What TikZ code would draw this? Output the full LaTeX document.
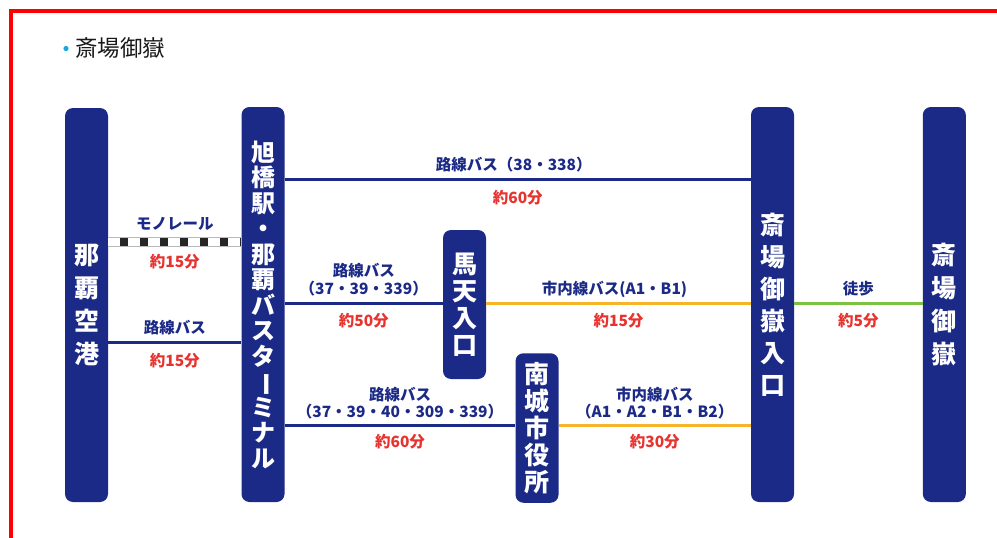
\documentclass[tikz,border=0pt]{standalone}
\usepackage{fontspec}
\usepackage{graphicx}
\newfontfamily\jp{Noto Sans CJK JP}

\definecolor{navy}{HTML}{1B2A86}
\definecolor{timered}{HTML}{E8322E}
\definecolor{citybus}{HTML}{F6B42A}
\definecolor{walkgreen}{HTML}{7CC242}
\definecolor{dotcyan}{HTML}{13A8DE}

\newcommand{\chouon}{\rotatebox[origin=c]{-90}{ー}}

\tikzset{
  stop/.style={fill=navy, rounded corners=8pt, minimum width=43pt, inner sep=0pt,
    text=white, align=center, font=\jp\bfseries\fontsize{25}{33}\selectfont},
  stoptight/.style={stop, font=\jp\bfseries\fontsize{24}{25.5}\selectfont},
  stopmid/.style={stop, font=\jp\bfseries\fontsize{25}{27}\selectfont},
  bus/.style={navy, line width=3pt},
  citybusline/.style={citybus, line width=3pt},
  walkline/.style={walkgreen, line width=3pt},
  monorail/.style={line width=8pt, black!85, dash pattern=on 8pt off 12pt, dash phase=8pt,
    preaction={draw=gray!55, line width=10.5pt, solid},
    preaction={draw=white, line width=8pt, solid}},
  route/.style={text=navy, align=center, inner sep=0pt, font=\jp\bfseries\fontsize{15.5}{17.5}\selectfont},
  time/.style={text=timered, inner sep=0pt, font=\jp\bfseries\fontsize{15.5}{17}\selectfont}
}

\begin{document}
\begin{tikzpicture}[x=1pt, y=-1pt]
  \useasboundingbox (0,0) rectangle (997,538);

  % Draw the frame and the title
  \draw[red, line width=4pt] (10.5,538) -- (10.5,10.7) -- (997,10.7);
  \fill[dotcyan] (66,48.5) circle (2.6);
  \node[anchor=west, inner sep=0pt, text=black!90, font=\jp\fontsize{22.5}{25}\selectfont] (title) at (75,48) {斎場御嶽};

  % Draw the stops
  \node[stop, minimum height=394pt] (naha) at (86.5,305) {那\\覇\\空\\港};
  \node[stoptight, minimum height=395pt] (asahi) at (263,304.5)
    {旭\\橋\\駅\\・\\那\\覇\\バ\\ス\\タ\\\chouon\\ミ\\ナ\\ル};
  \node[stopmid, minimum height=149pt] (baten) at (464.5,304.5) {馬\\天\\入\\口};
  \node[stopmid, minimum height=149.5pt] (nanjo) at (537,428) {南\\城\\市\\役\\所};
  \node[stop, minimum height=395pt, font=\jp\bfseries\fontsize{25}{32}\selectfont] (iriguchi) at (772.5,304.5)
    {斎\\場\\御\\嶽\\入\\口};
  \node[stop, minimum height=395pt] (utaki) at (944.3,304.5) {斎\\場\\御\\嶽};

  % Draw the connections and their labels
  \draw[monorail] (naha.east |- 0,242) -- (asahi.west |- 0,242)
    node[route, midway, yshift=18pt] (railname) {モノレール}
    node[time, midway, yshift=-20pt] (railtime) {約15分};
  \draw[bus] (naha.east |- 0,342.5) -- (asahi.west |- 0,342.5)
    node[route, midway, yshift=14.5pt] (airbus) {路線バス}
    node[time, midway, yshift=-18.5pt] (airtime) {約15分};

  \draw[bus] (asahi.east |- 0,179.5) -- (iriguchi.west |- 0,179.5)
    node[route, midway, xshift=-4pt, yshift=14.5pt] (directbus) {路線バス（38・338）}
    node[time, midway, yshift=-18.5pt] (directtime) {約60分};

  \draw[bus] (asahi.east |- 0,303) -- (baten.west |- 0,303)
    node[route, midway, yshift=23.5pt] (batenbus) {路線バス\\（37・39・339）}
    node[time, midway, yshift=-17.7pt] (batentime) {約50分};
  \draw[citybusline] (baten.east |- 0,303) -- (iriguchi.west |- 0,303)
    node[route, midway, xshift=-4pt, yshift=14pt] (batencity) {市内線バス(A1・B1)}
    node[time, midway, yshift=-17.7pt] (batencitytime) {約15分};

  \draw[bus] (asahi.east |- 0,425) -- (nanjo.west |- 0,425)
    node[route, midway, yshift=22pt] (nanjobus) {路線バス\\（37・39・40・309・339）}
    node[time, midway, yshift=-16.7pt] (nanjotime) {約60分};
  \draw[citybusline] (nanjo.east |- 0,425) -- (iriguchi.west |- 0,425)
    node[route, midway, yshift=22pt] (nanjocity) {市内線バス\\（A1・A2・B1・B2）}
    node[time, midway, yshift=-16.7pt] (nanjocitytime) {約30分};

  \draw[walkline] (iriguchi.east |- 0,303) -- (utaki.west |- 0,303)
    node[route, midway, yshift=14pt] (walk) {徒歩}
    node[time, midway, yshift=-17.7pt] (walktime) {約5分};

\end{tikzpicture}
\end{document}
